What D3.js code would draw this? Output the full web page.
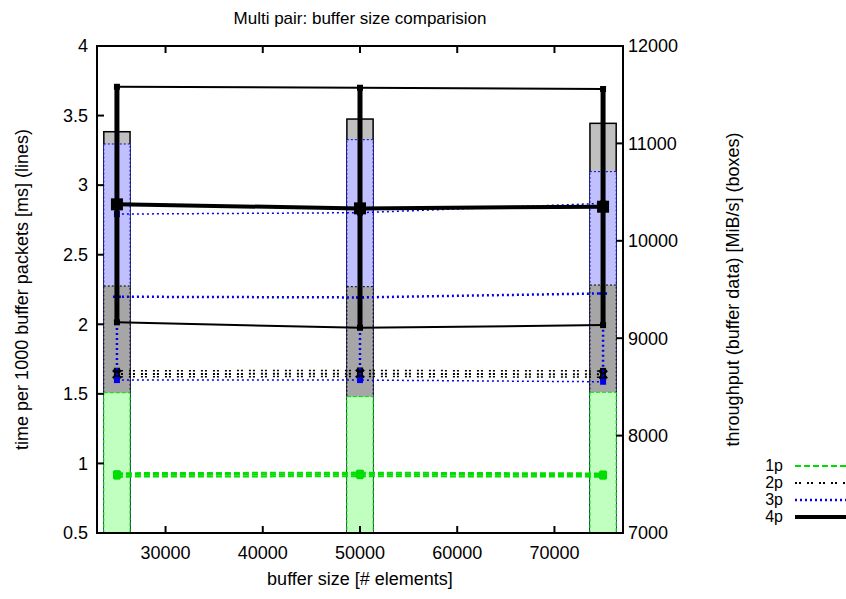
<!DOCTYPE html>
<html>
<head>
<meta charset="utf-8">
<script src="https://cdn.jsdelivr.net/npm/d3@7"></script>
<style>
  body { margin: 0; background: #fff; }
  text { font-family: "Liberation Sans", Arial, sans-serif; fill: #000; }
</style>
</head>
<body>
<script>
// buffer sizes (x)
var sizes = [25000, 50000, 75000];
var series = ["1p", "2p", "3p", "4p"];

// throughput per pair count (right axis, boxes)
var tp1 = [8440, 8400, 8445];
var tp2 = [9536, 9529, 9546];
var tp3 = [10994, 11038, 10710];
var tp4 = [11120, 11250, 11206];

// time per 1000 buffer packets (left axis, lines) - mean / min / max
var t1 = [0.918, 0.922, 0.916],  t1min = [0.905, 0.908, 0.905],  t1max = [0.93, 0.934, 0.928];
var t2 = [1.642, 1.645, 1.64],   t2min = [1.622, 1.625, 1.62],   t2max = [1.666, 1.668, 1.665];
var t3 = [2.198, 2.193, 2.222],  t3min = [1.599, 1.599, 1.587],  t3max = [2.792, 2.802, 2.869];
var t4 = [2.862, 2.833, 2.845],  t4min = [2.014, 1.975, 1.994],  t4max = [3.707, 3.70, 3.691];

var xTicks = [30000, 40000, 50000, 60000, 70000];
var yTicks = [0.5, 1, 1.5, 2, 2.5, 3, 3.5, 4];
var y2Ticks = [7000, 8000, 9000, 10000, 11000, 12000];

var W = 846, H = 599;
var pL = 97, pR = 623, pT = 46, pB = 533;

var svg = d3.select("body").append("svg")
    .attr("width", W)
    .attr("height", H);

var x = d3.scaleLinear().domain([22950, 77050]).range([pL, pR]);
var y = d3.scaleLinear().domain([0.5, 4]).range([pB, pT]);
var y2 = d3.scaleLinear().domain([7000, 12000]).range([pB, pT]);

var boxW = 2700;

var styles = {
    "1p": { color: "#00dd00", fill: "#c0ffc0", dash: "6,3", w: 2, thin: 2 },
    "2p": { color: "#000", fill: "#a6a6a6", dash: "2,2,2,6", w: 2, thin: 1.5 },
    "3p": { color: "#0000ee", fill: "#c0c0ff", dash: "2,3", w: 2.5, thin: 1.5 },
    "4p": { color: "#000", fill: "#c0c0c0", dash: null, w: 4, thin: 2 }
};

var boxData = { "1p": tp1, "2p": tp2, "3p": tp3, "4p": tp4 };
var lineData = {
    "1p": { m: t1, lo: t1min, hi: t1max },
    "2p": { m: t2, lo: t2min, hi: t2max },
    "3p": { m: t3, lo: t3min, hi: t3max },
    "4p": { m: t4, lo: t4min, hi: t4max }
};

var plot = svg.append("g");

// boxes, tallest first
["4p", "3p", "2p", "1p"].forEach(function (s) {
    var st = styles[s];
    plot.append("g").selectAll("rect")
        .data(boxData[s])
        .enter().append("rect")
        .attr("x", function (d, i) { return x(sizes[i] - boxW / 2); })
        .attr("width", function (d, i) { return x(sizes[i] + boxW / 2) - x(sizes[i] - boxW / 2); })
        .attr("y", function (d) { return y2(d); })
        .attr("height", function (d) { return y2(7000) - y2(d); })
        .attr("fill", st.fill)
        .attr("stroke", st.color)
        .attr("stroke-width", s == "4p" ? 1.5 : 1)
        .attr("stroke-dasharray", s == "4p" ? null : (s == "1p" ? "4,2" : "2,2"));
});

var line = d3.line()
    .x(function (d, i) { return x(sizes[i]); })
    .y(function (d) { return y(d); });

["1p", "2p", "3p", "4p"].forEach(function (s) {
    var st = styles[s], ld = lineData[s];
    var g = plot.append("g");

    // min / max lines
    [ld.lo, ld.hi].forEach(function (arr) {
        g.append("path")
            .datum(arr)
            .attr("d", line)
            .attr("fill", "none")
            .attr("stroke", st.color)
            .attr("stroke-width", st.thin)
            .attr("stroke-dasharray", st.dash);
    });

    // mean line
    g.append("path")
        .datum(ld.m)
        .attr("d", line)
        .attr("fill", "none")
        .attr("stroke", st.color)
        .attr("stroke-width", st.w)
        .attr("stroke-dasharray", st.dash);

    // error bars
    sizes.forEach(function (sz, i) {
        var cx = x(sz);
        g.append("line")
            .attr("x1", cx).attr("x2", cx)
            .attr("y1", y(ld.lo[i])).attr("y2", y(ld.hi[i]))
            .attr("stroke", st.color)
            .attr("stroke-width", s == "4p" ? 5 : st.w)
            .attr("stroke-dasharray", st.dash);
        [ld.lo[i], ld.hi[i]].forEach(function (v) {
            g.append("rect")
                .attr("x", cx - 3).attr("y", y(v) - 3)
                .attr("width", 6).attr("height", 6)
                .attr("fill", st.color);
        });
    });

    // markers
    sizes.forEach(function (sz, i) {
        var cx = x(sz), cy = y(ld.m[i]);
        if (s == "4p") {
            g.append("rect").attr("x", cx - 6).attr("y", cy - 6)
                .attr("width", 12).attr("height", 12).attr("fill", "#000");
        } else if (s == "1p") {
            g.append("rect").attr("x", cx - 4).attr("y", cy - 4)
                .attr("width", 8).attr("height", 8).attr("fill", st.color);
        } else if (s == "2p") {
            g.append("path")
                .attr("d", "M" + (cx - 4) + "," + (cy - 4) + "L" + (cx + 4) + "," + (cy + 4) +
                    "M" + (cx - 4) + "," + (cy + 4) + "L" + (cx + 4) + "," + (cy - 4))
                .attr("stroke", "#000").attr("stroke-width", 2.5);
        } else {
            g.append("path")
                .attr("d", "M" + (cx - 4) + "," + cy + "L" + (cx + 4) + "," + cy +
                    "M" + cx + "," + (cy - 4) + "L" + cx + "," + (cy + 4))
                .attr("stroke", st.color).attr("stroke-width", 2.5);
        }
    });
});

// frame
svg.append("rect")
    .attr("x", pL).attr("y", pT)
    .attr("width", pR - pL).attr("height", pB - pT)
    .attr("fill", "none")
    .attr("stroke", "#000")
    .attr("stroke-width", 2);

var tl = 7;
var ax = svg.append("g").attr("stroke", "#000").attr("stroke-width", 2);

xTicks.forEach(function (t) {
    ax.append("line").attr("x1", x(t)).attr("x2", x(t)).attr("y1", pB).attr("y2", pB - tl);
    ax.append("line").attr("x1", x(t)).attr("x2", x(t)).attr("y1", pT).attr("y2", pT + tl);
});
yTicks.forEach(function (t) {
    ax.append("line").attr("x1", pL).attr("x2", pL + tl).attr("y1", y(t)).attr("y2", y(t));
});
y2Ticks.forEach(function (t) {
    ax.append("line").attr("x1", pR).attr("x2", pR - tl).attr("y1", y2(t)).attr("y2", y2(t));
});

var fs = 18;
svg.append("g").selectAll("text")
    .data(xTicks).enter().append("text")
    .attr("x", function (d) { return x(d); })
    .attr("y", pB + 26)
    .attr("text-anchor", "middle")
    .attr("font-size", fs)
    .text(function (d) { return d; });

svg.append("g").selectAll("text")
    .data(yTicks).enter().append("text")
    .attr("x", pL - 9)
    .attr("y", function (d) { return y(d); })
    .attr("dy", "0.35em")
    .attr("text-anchor", "end")
    .attr("font-size", fs)
    .text(function (d) { return d; });

svg.append("g").selectAll("text")
    .data(y2Ticks).enter().append("text")
    .attr("x", pR + 5)
    .attr("y", function (d) { return y2(d); })
    .attr("dy", "0.35em")
    .attr("text-anchor", "start")
    .attr("font-size", fs)
    .text(function (d) { return d; });

svg.append("text")
    .attr("x", (pL + pR) / 2).attr("y", 24)
    .attr("text-anchor", "middle")
    .attr("font-size", 17)
    .text("Multi pair: buffer size comparision");

svg.append("text")
    .attr("x", (pL + pR) / 2).attr("y", 585)
    .attr("text-anchor", "middle")
    .attr("font-size", fs)
    .text("buffer size [# elements]");

svg.append("text")
    .attr("transform", "translate(28," + (pT + pB) / 2 + ") rotate(-90)")
    .attr("text-anchor", "middle")
    .attr("font-size", fs)
    .text("time per 1000 buffer packets [ms] (lines)");

svg.append("text")
    .attr("transform", "translate(739," + (pT + pB) / 2 + ") rotate(-90)")
    .attr("text-anchor", "middle")
    .attr("font-size", fs)
    .text("throughput (buffer data) [MiB/s] (boxes)");

// legend
var leg = svg.append("g");
series.forEach(function (s, i) {
    var st = styles[s], ly = 466 + i * 17;
    leg.append("text")
        .attr("x", 783).attr("y", ly)
        .attr("dy", "0.33em")
        .attr("text-anchor", "end")
        .attr("font-size", 16)
        .text(s);
    leg.append("line")
        .attr("x1", 795).attr("x2", 846)
        .attr("y1", ly).attr("y2", ly)
        .attr("stroke", st.color)
        .attr("stroke-width", st.w)
        .attr("stroke-dasharray", st.dash);
});
</script>
</body>
</html>
